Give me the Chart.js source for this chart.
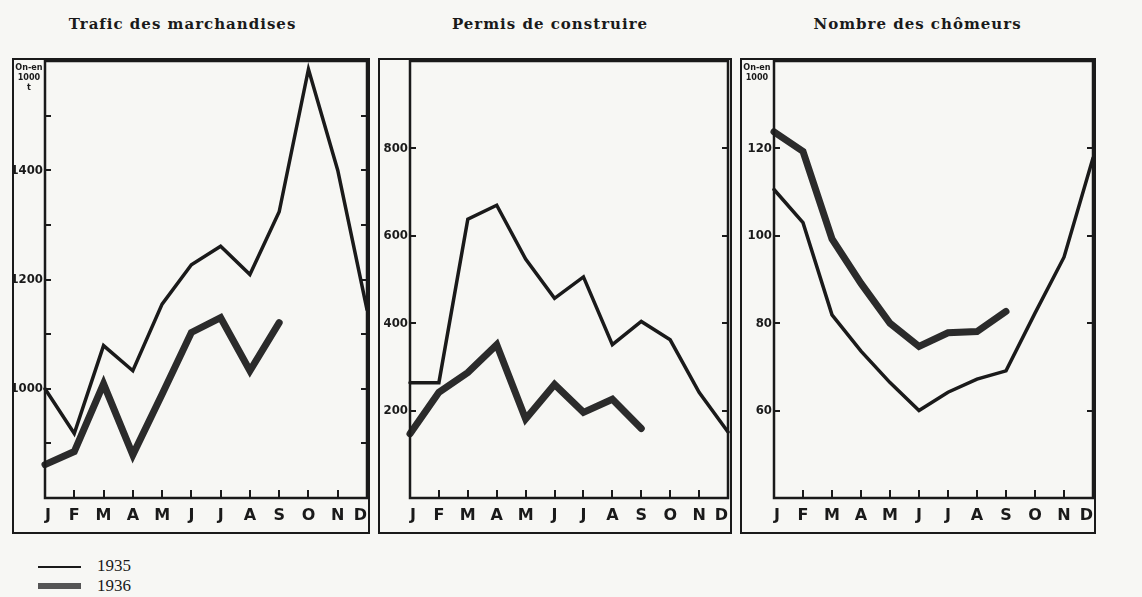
<!DOCTYPE html>
<html lang="fr">
<head>
<meta charset="utf-8">
<title>Trafic, permis de construire, chômeurs 1935-1936</title>
<script src="https://cdn.jsdelivr.net/npm/chart.js@4.4.1/dist/chart.umd.min.js"></script>
<style>
  body { margin: 0; width: 1142px; height: 597px; background: #f7f7f4; position: relative; overflow: hidden; color: #1a1a1a; }
  .titre { position: absolute; top: 15px; font: bold 15px 'DejaVu Serif', serif; letter-spacing: 1px; text-align: center; white-space: nowrap; }
  .cadre { position: absolute; top: 58px; height: 472px; border: 2px solid #1a1a1a; }
  .cadre canvas { display: block; }
  .unite { position: absolute; font: bold 9px 'DejaVu Sans Condensed', 'DejaVu Sans', sans-serif; line-height: 10px; text-align: center; white-space: nowrap; }
  .trait { position: absolute; left: 38px; width: 43px; }
  .annee { position: absolute; left: 97px; font: 17px 'Liberation Serif', 'DejaVu Serif', serif; line-height: 18px; }
</style>
</head>
<body>

<div class="titre" style="left:40px; width:285px;">Trafic des marchandises</div>
<div class="titre" style="left:410px; width:280px;">Permis de construire</div>
<div class="titre" style="left:775px; width:285px;">Nombre des chômeurs</div>

<div class="cadre" style="left:12px; width:354px;"><canvas id="trafic" width="354" height="472"></canvas></div>
<div class="cadre" style="left:378px; width:350px;"><canvas id="permis" width="350" height="472"></canvas></div>
<div class="cadre" style="left:740px; width:352px;"><canvas id="chomeurs" width="352" height="472"></canvas></div>

<div class="unite" style="left:14px; top:62px; width:30px;">On-en<br>1000<br>t</div>
<div class="unite" style="left:742px; top:62px; width:30px;">On-en<br>1000</div>

<div class="trait" style="top:566px; height:2px; background:#1a1a1a;"></div>
<div class="trait" style="top:583px; height:6px; background:#555;"></div>
<div class="annee" style="top:557px;">1935</div>
<div class="annee" style="top:577px;">1936</div>

<script>
// Données
const mois = ['J', 'F', 'M', 'A', 'M', 'J', 'J', 'A', 'S', 'O', 'N', 'D'];

const trafic1935 = [1000, 918, 1079, 1033, 1155, 1227, 1261, 1209, 1324, 1585, 1400, 1145];
const trafic1936 = [861, 885, 1009, 879, 990, 1103, 1130, 1033, 1121];
const traficGraduation = [1000, 1200, 1400];

const permis1935 = [264, 264, 638, 670, 547, 457, 506, 351, 404, 362, 242, 151];
const permis1936 = [147, 242, 287, 351, 181, 260, 196, 226, 159];
const permisGraduation = [200, 400, 600, 800];

const chomeurs1935 = [110.6, 103, 81.9, 73.6, 66.4, 60, 64.2, 67.2, 69.1, 82.3, 95.1, 117.8];
const chomeurs1936 = [123.8, 119.3, 99.3, 89.1, 80, 74.7, 77.8, 78.1, 82.7];
const chomeursGraduation = [60, 80, 100, 120];

const encre = '#1a1a1a';

// cadre de la zone + petites graduations tournées vers l'intérieur
const cadrePlugin = {
    id: 'cadre',
    afterDraw(chart) {
        const { ctx, chartArea: a, scales: { x, y } } = chart;
        ctx.save();
        ctx.strokeStyle = encre;
        ctx.lineWidth = 2.5;
        ctx.strokeRect(a.left, a.top, a.right - a.left, a.bottom - a.top);
        ctx.lineWidth = 2;
        ctx.beginPath();
        y.ticks.forEach(t => {
            if (t.value <= y.min || t.value >= y.max) return;
            const py = Math.round(y.getPixelForValue(t.value));
            ctx.moveTo(a.left, py);
            ctx.lineTo(a.left + 6, py);
            ctx.moveTo(a.right, py);
            ctx.lineTo(a.right - 6, py);
        });
        x.ticks.forEach((t, i) => {
            if (i === 0 || i === x.ticks.length - 1) return;
            const px = Math.round(x.getPixelForTick(i));
            ctx.moveTo(px, a.bottom);
            ctx.lineTo(px, a.bottom - 8);
        });
        ctx.stroke();
        ctx.restore();
    }
};

function dessine(id, serie1935, serie1936, graduation, min, max, pas, largeurY, droite) {
    return new Chart(document.getElementById(id), {
        type: 'line',
        data: {
            labels: mois,
            datasets: [
                { label: '1935', data: serie1935, borderColor: encre, borderWidth: 3.5, pointRadius: 0, tension: 0, clip: false, borderCapStyle: 'round' },
                { label: '1936', data: serie1936, borderColor: '#2b2b2b', borderWidth: 7, pointRadius: 0, tension: 0, clip: false, borderCapStyle: 'round' }
            ]
        },
        options: {
            responsive: false,
            animation: false,
            layout: { padding: { top: 1, right: droite, left: 0, bottom: 0 } },
            plugins: { legend: { display: false }, tooltip: { enabled: false } },
            scales: {
                x: {
                    ticks: { color: encre, padding: 8, align: 'inner', autoSkip: false, maxRotation: 0, font: { family: 'DejaVu Sans', size: 16, weight: 'bold' } },
                    grid: { display: false, drawTicks: false },
                    border: { display: false },
                    afterFit: s => { s.height = 34; s.paddingLeft = 0; s.paddingRight = 0; }
                },
                y: {
                    min: min,
                    max: max,
                    ticks: {
                        stepSize: pas,
                        autoSkip: false,
                        padding: 2,
                        color: encre,
                        font: { family: "'Liberation Sans Narrow', 'DejaVu Sans Condensed', 'DejaVu Sans'", size: 13, weight: 'bold' },
                        callback: v => graduation.includes(v) ? v : ''
                    },
                    grid: { display: false, drawTicks: false },
                    border: { display: false },
                    afterFit: s => { s.width = largeurY; s.paddingTop = 0; s.paddingBottom = 0; }
                }
            }
        },
        plugins: [cadrePlugin]
    });
}

dessine('trafic', trafic1935, trafic1936, traficGraduation, 800, 1600, 100, 31, 1);
dessine('permis', permis1935, permis1936, permisGraduation, 0, 1000, 200, 30, 2);
dessine('chomeurs', chomeurs1935, chomeurs1936, chomeursGraduation, 40, 140, 20, 32, 1);
</script>
</body>
</html>
